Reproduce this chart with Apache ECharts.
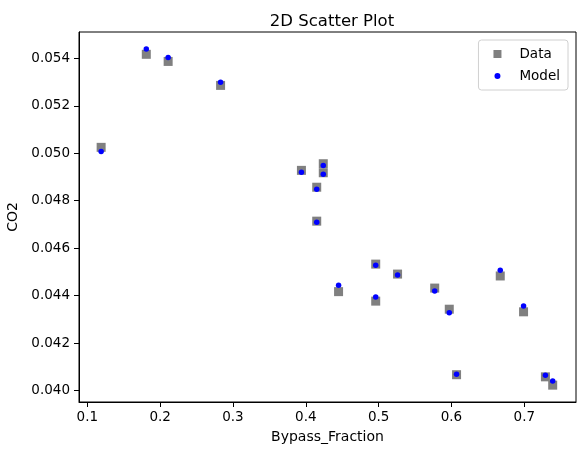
<!DOCTYPE html>
<html>
<head>
<meta charset="utf-8">
<script src="https://cdn.jsdelivr.net/npm/echarts@6/dist/echarts.min.js"></script>
<style>
  html, body { margin: 0; padding: 0; background: #fff; }
  #chart { width: 584px; height: 455px; }
</style>
</head>
<body>
<div id="chart"></div>
<script>
// values
const bypass = [0.119, 0.181, 0.211, 0.283, 0.394, 0.424, 0.424, 0.415, 0.415,
  0.496, 0.526, 0.445, 0.496, 0.577, 0.597, 0.667, 0.699, 0.607, 0.729, 0.739];
const co2Data = [0.05025, 0.05417, 0.05387, 0.05286, 0.04928, 0.04956, 0.04918, 0.04857, 0.04714,
  0.04533, 0.04491, 0.04417, 0.04377, 0.04432, 0.04343, 0.04483, 0.04332, 0.04067, 0.04058, 0.04023];
const co2Model = [0.05008, 0.05439, 0.05404, 0.05299, 0.0492, 0.04949, 0.04912, 0.04848, 0.04709,
  0.04528, 0.04487, 0.04444, 0.04394, 0.0442, 0.04328, 0.04507, 0.04356, 0.04069, 0.04065, 0.04041];
const xTicks = [0.1, 0.2, 0.3, 0.4, 0.5, 0.6, 0.7];
const yTicks = [0.040, 0.042, 0.044, 0.046, 0.048, 0.050, 0.052, 0.054];

const font = 'DejaVu Sans';
const chart = echarts.init(document.getElementById('chart'));

// legend icons: small square and a smaller dot inside the same box
const squareIcon = 'path://M0 0h0.01v0.01h-0.01z M1 1h8v8h-8z M10 10h0.01v0.01h-0.01z';
const dotIcon = 'path://M0 0h0.01v0.01h-0.01z M2 5a3 3 0 1 0 6 0a3 3 0 1 0 -6 0z M10 10h0.01v0.01h-0.01z';

const axisCommon = {
  type: 'value',
  axisLine: { show: true, onZero: false, lineStyle: { color: '#000', width: 1 } },
  axisTick: { show: true, inside: false, length: 5, lineStyle: { color: '#000' } },
  splitLine: { show: false },
  nameTextStyle: { color: '#000', fontFamily: font, fontSize: 14 }
};

chart.setOption({
  animation: false,
  title: {
    text: '2D Scatter Plot',
    left: 327, top: 8, textAlign: 'center',
    textStyle: { color: '#000', fontFamily: font, fontSize: 16.5, fontWeight: 'normal' }
  },
  grid: {
    left: 79, right: 8, top: 32, bottom: 53,
    show: true, borderColor: '#000', borderWidth: 1,
    outerBoundsMode: 'none', containLabel: false
  },
  legend: {
    orient: 'vertical', right: 16, top: 40,
    padding: [7, 8, 7, 14], itemGap: 8,
    itemWidth: 10, itemHeight: 10,
    borderColor: '#d0d0d0', borderWidth: 1, borderRadius: 3,
    textStyle: { color: '#000', fontFamily: font, fontSize: 13.5, padding: [0, 0, 0, 12] },
    data: [
      { name: 'Data', icon: squareIcon, itemStyle: { color: '#808080' } },
      { name: 'Model', icon: dotIcon, itemStyle: { color: '#0000ff' } }
    ]
  },
  xAxis: Object.assign({}, axisCommon, {
    min: 0.0886, max: 0.771,
    name: 'Bypass_Fraction', nameLocation: 'middle', nameGap: 28,
    axisTick: Object.assign({}, axisCommon.axisTick, { customValues: xTicks }),
    axisLabel: {
      customValues: xTicks, margin: 8, color: '#000', fontFamily: font, fontSize: 13.5,
      formatter: v => v.toFixed(1)
    }
  }),
  yAxis: Object.assign({}, axisCommon, {
    min: 0.03952, max: 0.05511,
    name: 'CO2', nameLocation: 'middle', nameGap: 56,
    axisTick: Object.assign({}, axisCommon.axisTick, { customValues: yTicks }),
    axisLabel: {
      customValues: yTicks, margin: 9, color: '#000', fontFamily: font, fontSize: 13.5,
      formatter: v => v.toFixed(3)
    }
  }),
  series: [
    {
      name: 'Data', type: 'scatter', symbol: 'rect', symbolSize: 9,
      itemStyle: { color: '#808080', opacity: 1 },
      data: bypass.map((x, i) => [x, co2Data[i]])
    },
    {
      name: 'Model', type: 'scatter', symbol: 'circle', symbolSize: 5.5,
      itemStyle: { color: '#0000ff', opacity: 1 },
      data: bypass.map((x, i) => [x, co2Model[i]])
    }
  ]
});
</script>
</body>
</html>
